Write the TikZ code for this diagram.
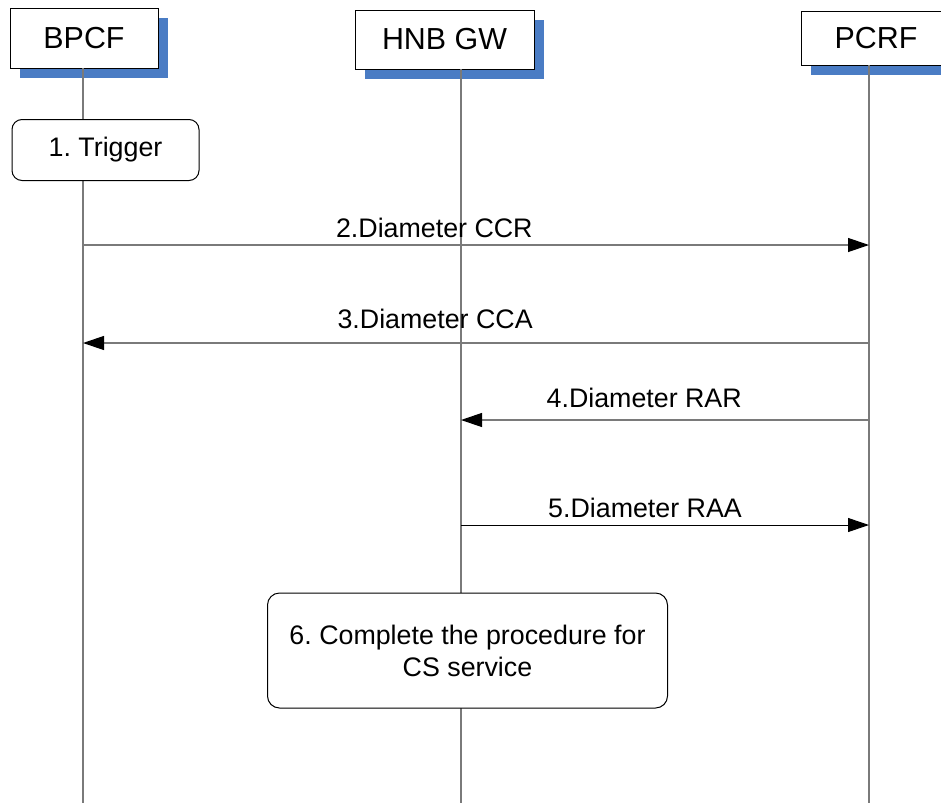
\documentclass[tikz,border=0pt]{standalone}
\usepackage{fontspec}
\setmainfont{Liberation Sans}
\frenchspacing
\usetikzlibrary{arrows.meta,shadows}
\definecolor{shadowblue}{HTML}{4A7CC4}
\definecolor{lifegray}{HTML}{7A7A7A}

\begin{document}
\begin{tikzpicture}[x=0.5pt, y=-0.5pt, font=\fontsize{13.4}{16}\selectfont,
  actor/.style={draw=black, line width=0.5pt, fill=white, minimum height=30pt, inner sep=0pt, font=\fontsize{15.2}{18}\selectfont,
    general shadow={fill=shadowblue, shadow xshift=5pt, shadow yshift=-5pt}},
  stepbox/.style={draw=black, line width=0.5pt, fill=white, rounded corners=6pt, align=center, inner sep=0pt},
  life/.style={draw=lifegray, line width=0.6pt},
  msg/.style={draw=lifegray, line width=0.6pt, -{Triangle[length=10.5pt, width=7pt, black]}},
  lbl/.style={anchor=base, inner sep=0pt}]
\useasboundingbox (0,0) rectangle (941,803);
\node[actor, minimum width=74pt] (bpcf) at (84,38) {BPCF};
\node[actor, minimum width=89.5pt, minimum height=29.5pt] (hnb) at (444.5,39.5) {HNB GW};
\node[actor, minimum width=75pt, minimum height=27pt] (pcrf) at (876,38) {PCRF};
% lifelines
\coordinate (bpcf top) at (83,68);   \coordinate (bpcf end) at (83,803);
\coordinate (hnb top) at (461,69);   \coordinate (hnb end) at (461,803);
\coordinate (pcrf top) at (869,65);  \coordinate (pcrf end) at (869,803);
\draw[life] (bpcf top) -- (bpcf end);
\draw[life] (hnb top) -- (hnb end);
\draw[life] (pcrf top) -- (pcrf end);
% messages
\coordinate (ccr from) at (83,245);  \coordinate (ccr to) at (869,245);
\coordinate (cca from) at (869,343); \coordinate (cca to) at (83,343);
\coordinate (rar from) at (869,420); \coordinate (rar to) at (461,420);
\coordinate (raa from) at (461,525); \coordinate (raa to) at (869,525);
\draw[msg] (ccr from) -- node[lbl, pos=0.447, yshift=4pt] {2.Diameter CCR} (ccr to);
\draw[msg] (cca from) -- node[lbl, pos=0.552, yshift=7.5pt] {3.Diameter CCA} (cca to);
\draw[msg] (rar from) -- node[lbl, pos=0.551, yshift=6.5pt] {4.Diameter RAR} (rar to);
\draw[msg, draw=black, line width=0.5pt] (raa from) -- node[lbl, pos=0.451, yshift=4pt] {5.Diameter RAA} (raa to);
% actions
\node[stepbox, minimum width=93.5pt, minimum height=30.5pt, rounded corners=5pt] (trig) at (105.5,150) {1. Trigger};
\node[stepbox, minimum width=200pt, minimum height=57.5pt] (proc) at (467.5,650.5) {6. Complete the procedure for\\CS service};
\end{tikzpicture}
\end{document}
